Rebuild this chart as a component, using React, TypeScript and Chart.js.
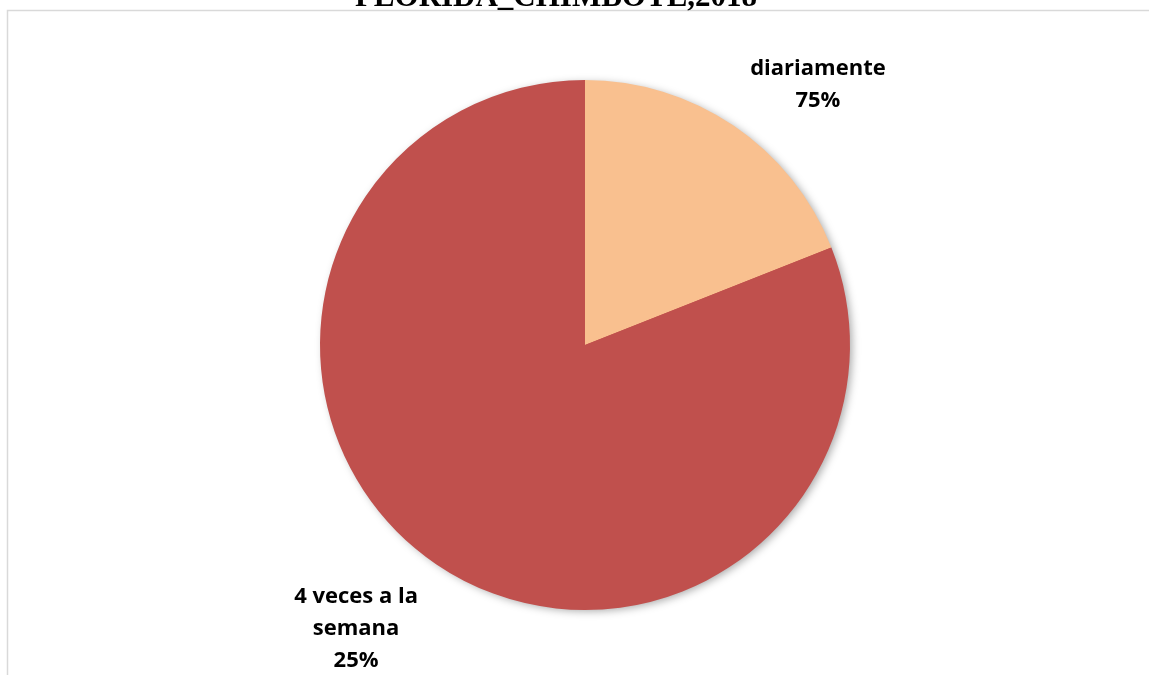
import React, { useEffect, useRef } from "react";
import { Chart, registerables } from "chart.js";

Chart.register(...registerables);

const categories = ["diariamente", "4 veces a la semana"];
const labelLines = [["diariamente"], ["4 veces a la", "semana"]];
const percentLabels = ["75%", "25%"];
const sliceValues = [19, 81];
const sliceColors = ["#F9C08F", "#C0504D"];
const titleText = "FLORIDA_CHIMBOTE,2018";

const W = 1149;
const H = 675;

const decorPlugin = {
  id: "decor",
  beforeDraw(chart: any) {
    const ctx = chart.ctx;
    ctx.save();
    ctx.fillStyle = "#ffffff";
    ctx.fillRect(0, 0, chart.width, chart.height);
    ctx.strokeStyle = "#d9d9d9";
    ctx.lineWidth = 1.5;
    ctx.strokeRect(7.5, 10.5, chart.width + 50, chart.height + 50);
    ctx.fillStyle = "#000000";
    ctx.font = "bold 31px 'Liberation Serif', 'Times New Roman', serif";
    ctx.textAlign = "center";
    ctx.textBaseline = "alphabetic";
    ctx.fillText(titleText, 556, 6);
    ctx.restore();
  },
  beforeDatasetsDraw(chart: any) {
    const meta = chart.getDatasetMeta(0);
    const arc = meta.data[0];
    if (!arc) return;
    const ctx = chart.ctx;
    ctx.save();
    ctx.shadowColor = "rgba(0,0,0,0.35)";
    ctx.shadowBlur = 8;
    ctx.shadowOffsetX = 3;
    ctx.shadowOffsetY = 2;
    ctx.fillStyle = "#C0504D";
    ctx.beginPath();
    ctx.arc(arc.x, arc.y, arc.outerRadius - 1, 0, Math.PI * 2);
    ctx.fill();
    ctx.restore();
  },
  afterDatasetsDraw(chart: any, _args: any, opts: any) {
    const meta = chart.getDatasetMeta(0);
    const ctx = chart.ctx;
    ctx.save();
    ctx.fillStyle = "#000000";
    ctx.font = "bold 22px 'Open Sans', sans-serif";
    ctx.textAlign = "center";
    ctx.textBaseline = "alphabetic";
    const lh = opts.lineHeight;
    meta.data.forEach((arc: any, i: number) => {
      const r = arc.outerRadius;
      const [fx, fy] = opts.anchors[i];
      const cx = arc.x + fx * r;
      const lines = [...labelLines[i], percentLabels[i]];
      const firstBase = arc.y + fy * r;
      lines.forEach((t, j) => {
        ctx.fillText(t, cx, firstBase + j * lh);
      });
    });
    ctx.restore();
  },
};

export default function App() {
  const ref = useRef<HTMLCanvasElement | null>(null);
  useEffect(() => {
    if (!ref.current) return;
    const chart = new Chart(ref.current, {
      type: "pie",
      data: {
        labels: categories,
        datasets: [
          {
            data: sliceValues,
            backgroundColor: sliceColors,
            borderWidth: 0,
          },
        ],
      },
      options: {
        animation: false,
        responsive: false,
        layout: { padding: { left: 320, right: 299, top: 80, bottom: 65 } },
        plugins: {
          legend: { display: false },
          tooltip: { enabled: false },
          title: { display: false },
          decor: {
            anchors: [
              [0.879, -1.017],
              [-0.864, 0.973],
            ],
            lineHeight: 32,
          },
        } as any,
      },
      plugins: [decorPlugin],
    });
    return () => chart.destroy();
  }, []);
  return (
    <div style={{ position: "fixed", left: 0, top: 0, width: W, height: H, background: "#fff" }}>
      <canvas ref={ref} width={W} height={H} style={{ display: "block", width: W, height: H }} />
    </div>
  );
}
